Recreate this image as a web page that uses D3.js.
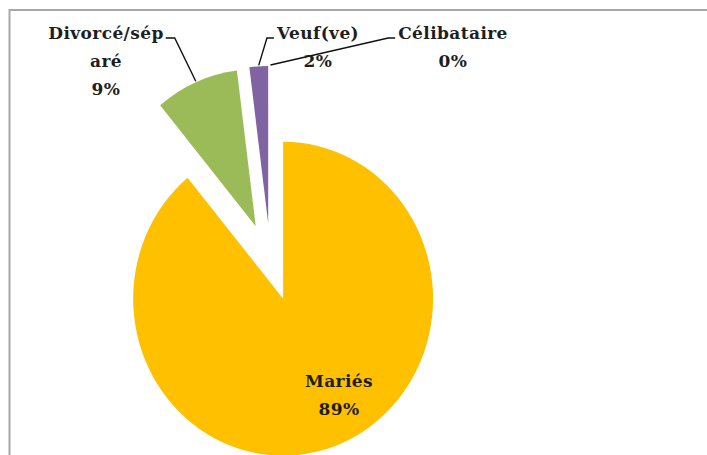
<!DOCTYPE html>
<html>
<head>
<meta charset="utf-8">
<script src="https://cdn.jsdelivr.net/npm/d3@7"></script>
<style>
  html, body { margin: 0; padding: 0; background: #fff; }
  svg { display: block; }
  .lbl { font-family: "DejaVu Serif", serif; font-weight: bold; font-size: 17px; letter-spacing: 0.4px; fill: #1e1e1e; }
</style>
</head>
<body>
<div id="chart"></div>
<script>
// data
const categories = ["Célibataire", "Mariés", "Divorcé/séparé", "Veuf(ve)"];
const values = [0, 89, 9, 2];
const labelLines = [["Célibataire"], ["Mariés"], ["Divorcé/sép", "aré"], ["Veuf(ve)"]];
const colors = ["#4f81bd", "#ffc000", "#9bbb59", "#8064a2"];

const w = 707, h = 455;
const cx = 270.5, cy = 262;
const r = 157;
const explode = 39;
const sx = 0.955; // picture is a bit narrower than tall

// label anchors (center x, first baseline) and leader elbow side
const labelPos = [
  { x: 453, y: 39, leader: true, side: "left" },
  { x: 339, y: 387, leader: false },
  { x: 106, y: 39, leader: true, side: "right" },
  { x: 318, y: 39, leader: true, side: "left" }
];

const svg = d3.select("#chart").append("svg")
  .attr("width", w)
  .attr("height", h);

// chart area border (runs off the picture to the right and bottom)
svg.append("rect")
  .attr("x", 9.5).attr("y", 10)
  .attr("width", 900).attr("height", 700)
  .attr("fill", "none")
  .attr("stroke", "#a8a8a8")
  .attr("stroke-width", 2);

const pie = d3.pie().sort(null).startAngle(0).endAngle(2 * Math.PI);
const arcs = pie(values);
const arc = d3.arc().innerRadius(0).outerRadius(r);

const mid = d => (d.startAngle + d.endAngle) / 2;
// point at distance k from pie center along slice mid angle, page coords
const toPage = (a, k) => [cx + sx * k * Math.sin(a), cy - k * Math.cos(a)];

const g = svg.append("g")
  .attr("transform", `translate(${cx},${cy}) scale(${sx},1)`);

g.selectAll("path")
  .data(arcs)
  .enter()
  .append("path")
  .attr("d", arc)
  .attr("fill", (d, i) => colors[i])
  .attr("transform", d => `translate(${explode * Math.sin(mid(d))},${-explode * Math.cos(mid(d))})`);

// labels
const lineH = 28;
arcs.forEach((d, i) => {
  const p = labelPos[i];
  const lines = labelLines[i].concat([Math.round(values[i]) + "%"]);
  const t = svg.append("text")
    .attr("class", "lbl")
    .attr("text-anchor", "middle");
  lines.forEach((s, j) => {
    t.append("tspan").attr("x", p.x).attr("y", p.y + j * lineH).text(s);
  });

  if (p.leader) {
    const first = t.select("tspan").node();
    const tw = first.getComputedTextLength();
    const ex = p.side === "right" ? p.x + tw / 2 + 2 : p.x - tw / 2 - 3;
    const ey = p.y - 1;
    const ex2 = p.side === "right" ? ex + 9 : ex - 7;
    const end = toPage(mid(d), r + explode + 1);
    svg.append("path")
      .attr("d", d3.line()([[ex, ey], [ex2, ey], end]))
      .attr("fill", "none")
      .attr("stroke", "#111")
      .attr("stroke-width", 1.4);
  }
});
</script>
</body>
</html>
